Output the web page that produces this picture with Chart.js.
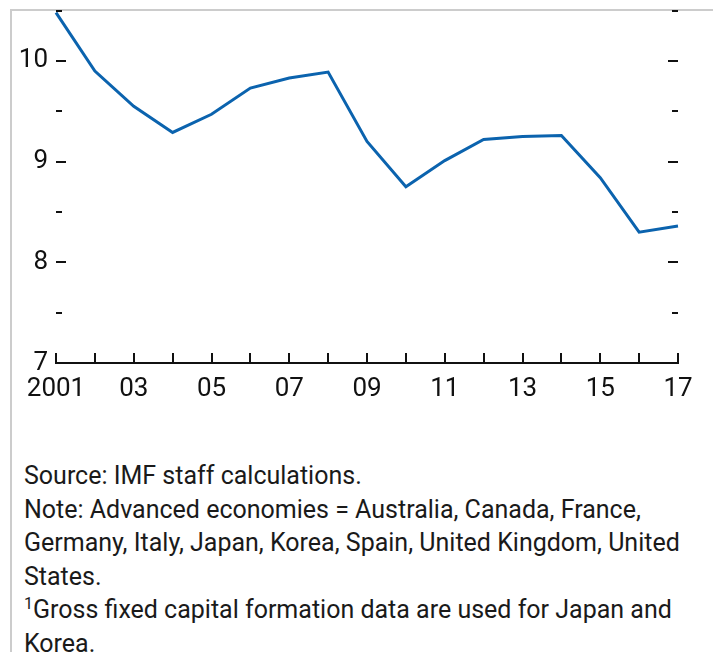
<!DOCTYPE html>
<html>
<head>
<meta charset="utf-8">
<script src="https://cdn.jsdelivr.net/npm/chart.js@4.4.0/dist/chart.umd.min.js"></script>
<style>
  html, body { margin: 0; padding: 0; background: #fff; }
  #wrap { position: relative; width: 713px; height: 652px; overflow: hidden; }
  #frame { position: absolute; left: 10px; top: 9px; right: -5px; bottom: -5px;
           border-left: 2px solid #cccccc; border-top: 2px solid #cccccc; }
  #cv { position: absolute; left: 0; top: -13px; }
  #notes { position: absolute; left: 24px; top: 459px; font-family: Roboto, "Liberation Sans", sans-serif;
           font-size: 25px; line-height: 33.5px; color: #1a1a1a; white-space: nowrap; }
  #notes sup { font-size: 16px; vertical-align: 9px; line-height: 0; }
</style>
</head>
<body>
<div id="wrap">
  <div id="frame"></div>
  <canvas id="cv" width="713" height="420"></canvas>
  <div id="notes">
    Source: IMF staff calculations.<br>
    Note: Advanced economies = Australia, Canada, France,<br>
    Germany, Italy, Japan, Korea, Spain, United Kingdom, United<br>
    States.<br>
    <sup>1</sup>Gross fixed capital formation data are used for Japan and<br>
    Korea.
  </div>
</div>
<script>
const years = [2001, 2002, 2003, 2004, 2005, 2006, 2007, 2008, 2009, 2010, 2011, 2012, 2013, 2014, 2015, 2016, 2017];
const values = [10.48, 9.90, 9.55, 9.29, 9.47, 9.73, 9.83, 9.89, 9.20, 8.75, 9.01, 9.22, 9.25, 9.26, 8.84, 8.30, 8.36];
const yMin = 7, yMax = 10.5;

const tickFont = { family: 'Roboto, "Liberation Sans", sans-serif', size: 26 };

// tick marks drawn inward, like the original figure
const innerTicks = {
  id: 'innerTicks',
  afterDraw(chart) {
    const { ctx, chartArea, scales } = chart;
    ctx.save();
    ctx.strokeStyle = '#111';
    ctx.lineWidth = 2;
    for (let v = yMin + 0.5; v <= yMax; v += 0.5) {
      const y = Math.round(scales.y.getPixelForValue(v));
      const len = Number.isInteger(v) ? 10 : 6;
      ctx.beginPath();
      ctx.moveTo(chartArea.left, y);
      ctx.lineTo(chartArea.left + len, y);
      ctx.moveTo(chartArea.right, y);
      ctx.lineTo(chartArea.right - len, y);
      ctx.stroke();
    }
    years.forEach(yr => {
      const x = Math.round(scales.x.getPixelForValue(yr));
      ctx.beginPath();
      ctx.moveTo(x, chartArea.bottom);
      ctx.lineTo(x, chartArea.bottom - 10);
      ctx.stroke();
    });
    ctx.restore();
  }
};

new Chart('cv', {
  type: 'line',
  data: {
    datasets: [{
      data: years.map((yr, i) => ({ x: yr, y: values[i] })),
      borderColor: '#0b63ae',
      borderWidth: 3,
      pointRadius: 0,
      tension: 0,
      clip: 4
    }]
  },
  options: {
    responsive: false,
    animation: false,
    layout: { padding: { left: 0, right: 35, top: 11, bottom: 0 } },
    plugins: { legend: { display: false }, tooltip: { enabled: false } },
    scales: {
      x: {
        type: 'linear',
        min: 2001,
        max: 2017,
        afterFit: s => { s.height = 44; },
        afterBuildTicks: s => { s.ticks = years.map(v => ({ value: v })); },
        border: { display: true, color: '#111', width: 2 },
        grid: { display: false, drawTicks: false },
        ticks: {
          autoSkip: false,
          maxRotation: 0,
          padding: 11,
          color: '#111',
          font: tickFont,
          callback: v => (v - 2001) % 2 !== 0 ? '' : (v === 2001 ? '2001' : String(v % 100).padStart(2, '0'))
        }
      },
      y: {
        min: yMin,
        max: yMax,
        afterFit: s => { s.width = 56; },
        border: { display: false },
        grid: { display: false, drawTicks: false },
        ticks: {
          stepSize: 0.5,
          padding: 8,
          color: '#111',
          font: tickFont,
          callback: v => Number.isInteger(v) ? String(v) : ''
        }
      }
    }
  },
  plugins: [innerTicks]
});
</script>
</body>
</html>
